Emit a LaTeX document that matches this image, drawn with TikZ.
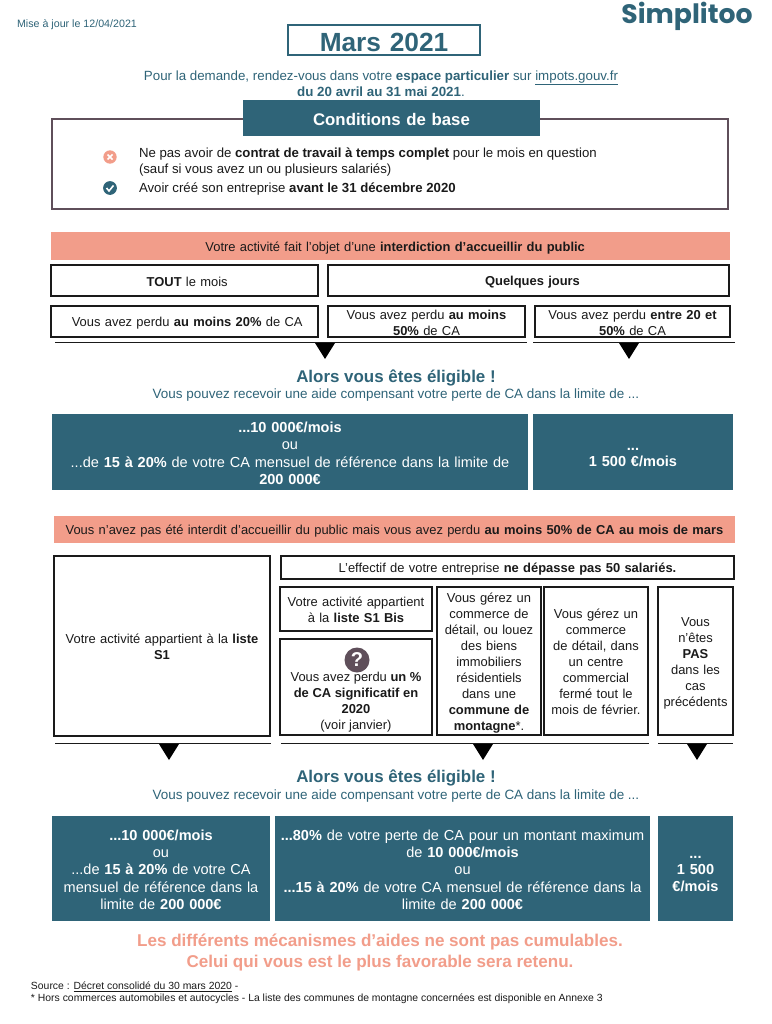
\documentclass[tikz,border=0pt]{standalone}
\usepackage{fontspec}
\setmainfont{Liberation Sans}
\newfontfamily\logofont{Poppins}
\definecolor{teal}{HTML}{2F6478}
\definecolor{salmon}{HTML}{F29D8A}
\definecolor{dk}{HTML}{1A1A1A}
\definecolor{qm}{HTML}{5F4F5A}
\newcommand\fz[2]{\fontsize{#1}{#2}\selectfont}
\hyphenpenalty=10000
% \bx[style]{name}{x1}{y1}{x2}{y2}{text}
\newcommand\bx[7][]{%
  \pgfmathsetmacro\bxw{(#5-#3)*0.75}\pgfmathsetmacro\bxh{(#6-#4)*0.75}%
  \pgfmathsetmacro\bxt{(#5-#3)*0.75}%
  \node[#1,minimum width=\bxw pt,minimum height=\bxh pt,text width=\bxt pt] (#2) at ({(#3+#5)/2},{(#4+#6)/2}) {\rule{0pt}{1.02em}#7\rule[-0.13em]{0pt}{0.13em}};}
\tikzset{
  x=0.75pt,y=-0.75pt,
  every node/.style={inner sep=0pt,outer sep=0pt,align=center,font=\fz{9.7}{12},text=dk},
  plain/.style={draw=dk,line width=1.1pt,fill=white},
  tealbox/.style={fill=teal,text=white,font=\fz{10.9}{13}},
  salbox/.style={fill=salmon},
  sep/.style={draw=dk,line width=0.7pt},
  tri/.style={fill=black},
  lab/.style={text=teal},
}
\begin{document}
\begin{tikzpicture}
\useasboundingbox (0,0) rectangle (771,1024);
\fill[white] (0,0) rectangle (771,1024);
\node[lab,font=\fz{8}{10}] (maj) at (77,24.5) {Mise à jour le 12/04/2021};
\node[lab,font=\fz{20}{24}\logofont\bfseries] (logo) at (687,16) {Simplitoo};
\bx[draw=teal,line width=1.3pt,text=teal,font=\fz{19.7}{24}\bfseries]{titre}{288}{25}{480}{55}{Mars 2021}
\node[lab,font=\fz{10}{11.25},align=center] (dem) at (381,83.5) {Pour la demande, rendez-vous dans votre \textbf{espace particulier} sur \underline{impots.gouv.fr}\\\textbf{du 20 avril au 31 mai 2021}.};
\bx[draw=qm,line width=0.9pt,fill=white]{cond}{52}{119}{728}{209}{}
\bx[fill=teal,text=white,font=\fz{12.6}{15}\bfseries]{hcond}{243}{100}{540}{136}{Conditions de base}
\fill[salmon] (110,157) circle (6.7);
\draw[white,line width=1.1pt] (107.5,154.5) -- (112.5,159.5) (112.5,154.5) -- (107.5,159.5);
\fill[teal] (110,188) circle (6.9);
\draw[white,line width=1.2pt] (106.5,188) -- (109,191) -- (113.5,185.5);
\node[anchor=west,align=left,font=\fz{9.9}{12}] (c1) at (139,162) {Ne pas avoir de \textbf{contrat de travail à temps complet} pour le mois en question\\(sauf si vous avez un ou plusieurs salariés)};
\node[anchor=west,font=\fz{9.9}{12}] (c2) at (139,189.5) {Avoir créé son entreprise \textbf{avant le 31 décembre 2020}};

\bx[salbox]{int}{51}{232}{730}{260}{\hspace*{7pt}Votre activité fait l’objet d’une \textbf{interdiction d’accueillir du public}}
\bx[plain]{tout}{51}{265}{318}{296}{\hspace*{4pt}\textbf{TOUT} le mois}
\bx[plain]{quel}{328}{265}{729}{296}{\hspace*{6pt}\textbf{Quelques jours}}
\bx[plain]{p20}{51}{306}{318}{337}{\hspace*{4pt}Vous avez perdu \textbf{au moins 20\%} de CA}
\bx[plain]{p50}{328}{306}{525}{337}{Vous avez perdu \textbf{au moins}\\\textbf{50\%} de CA}
\bx[plain]{p2050}{535}{306}{730}{337}{Vous avez perdu \textbf{entre 20 et}\\\textbf{50\%} de CA}
\draw[sep] (55,342) -- (527,342) (533,342) -- (735,342);
\fill[tri] (315,343) -- (335,343) -- (325,359) -- cycle;
\fill[tri] (619,343) -- (639,343) -- (629,359) -- cycle;

\node[lab,font=\fz{12.7}{15}\bfseries] (al1) at (396,378) {Alors vous êtes éligible !};
\node[lab,font=\fz{10.1}{12}] (su1) at (396,395.5) {Vous pouvez recevoir une aide compensant votre perte de CA dans la limite de ...};
\bx[tealbox]{a1}{52}{414}{528}{490}{\textbf{...10 000€/mois}\\ou\\...de \textbf{15 à 20\%} de votre CA mensuel de référence dans la limite de\\\textbf{200 000€}}
\bx[tealbox,font=\fz{10.9}{12.2}\bfseries]{a2}{533}{414}{733}{490}{...\\1 500 €/mois}

\bx[salbox]{nint}{54}{516}{735}{543}{Vous n’avez pas été interdit d’accueillir du public mais vous avez perdu \textbf{au moins 50\% de CA au mois de mars}}
\bx[plain]{s1}{54}{556}{270}{736}{Votre activité appartient à la \textbf{liste}\\\textbf{S1}}
\bx[plain]{eff}{281}{556}{734}{579}{L’effectif de votre entreprise \textbf{ne dépasse pas 50 salariés.}}
\bx[plain]{s1b}{280}{587}{432}{631}{Votre activité appartient\\à la \textbf{liste S1 Bis}}
\bx[plain]{pct}{280}{639}{432}{735}{}
\node[circle,fill=qm,text=white,minimum size=18.75pt,font=\fz{15}{18}\bfseries] (qq) at (357,660) {?};
\node (pctt) at (356,702) {Vous avez perdu \textbf{un \%}\\\textbf{de CA significatif en}\\\textbf{2020}\\(voir janvier)};
\bx[plain]{com1}{437}{587}{541}{735}{Vous gérez un\\commerce de\\détail, ou louez\\des biens\\immobiliers\\résidentiels\\dans une\\\textbf{commune de}\\\textbf{montagne}*.}
\bx[plain]{com2}{544}{587}{648}{735}{Vous gérez un\\commerce\\de détail, dans\\un centre\\commercial\\fermé tout le\\mois de février.}
\bx[plain]{pas}{658}{587}{733}{735}{Vous\\n’êtes\\\textbf{PAS}\\dans les\\cas\\précédents}
\draw[sep] (55,743) -- (271,743) (281,743) -- (649,743) (658,743) -- (733,743);
\fill[tri] (159,744) -- (179,744) -- (169,760) -- cycle;
\fill[tri] (473,744) -- (493,744) -- (483,760) -- cycle;
\fill[tri] (687,744) -- (707,744) -- (697,760) -- cycle;

\node[lab,font=\fz{12.7}{15}\bfseries] (al2) at (396,778) {Alors vous êtes éligible !};
\node[lab,font=\fz{10.1}{12}] (su2) at (396,796) {Vous pouvez recevoir une aide compensant votre perte de CA dans la limite de ...};
\bx[tealbox]{b1}{52}{816}{270}{921}{\textbf{...10 000€/mois}\\ou\\...de \textbf{15 à 20\%} de votre CA\\mensuel de référence dans la\\limite de \textbf{200 000€}}
\bx[tealbox]{b2}{275}{816}{650}{921}{\textbf{...80\%} de votre perte de CA pour un montant maximum\\de \textbf{10 000€/mois}\\ou\\\textbf{...15 à 20\%} de votre CA mensuel de référence dans la\\limite de \textbf{200 000€}}
\bx[tealbox,font=\fz{10.9}{12.2}\bfseries]{b3}{658}{816}{733}{921}{...\\1 500\\€/mois}

\node[text=salmon,font=\fz{12.8}{15.75}\bfseries,align=center] (cumul) at (380,952.5) {Les différents mécanismes d’aides ne sont pas cumulables.\\Celui qui vous est le plus favorable sera retenu.};
\node[anchor=west,align=left,font=\fz{7.8}{9}] (src) at (31,992.5) {Source : \underline{Décret consolidé du 30 mars 2020} -\\* Hors commerces automobiles et autocycles - La liste des communes de montagne concernées est disponible en Annexe 3};
\end{tikzpicture}
\end{document}
